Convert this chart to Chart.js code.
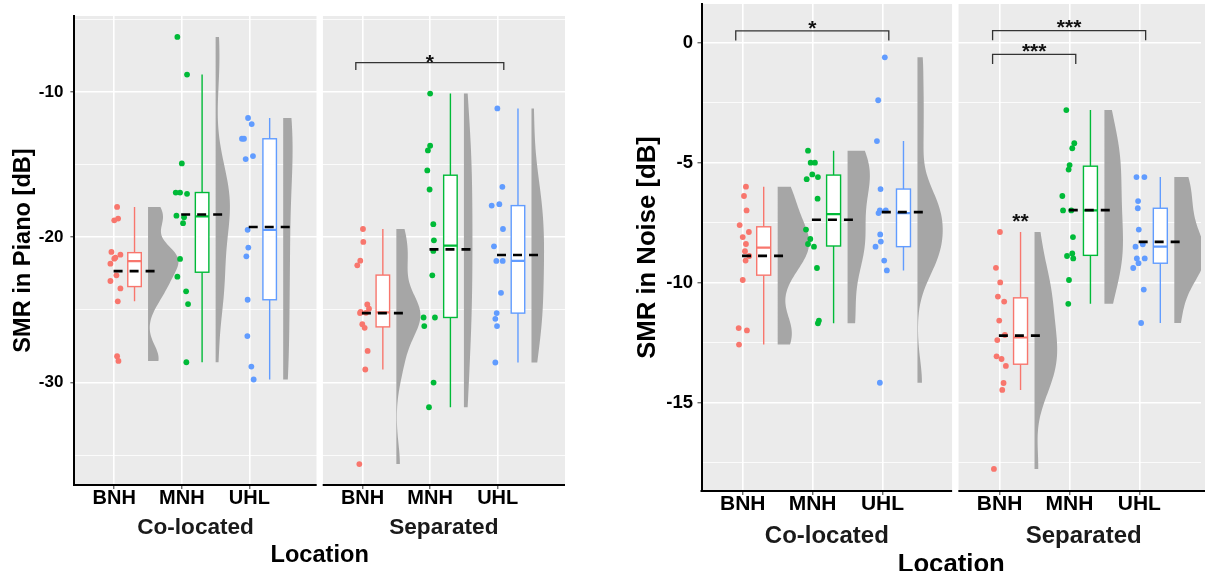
<!DOCTYPE html>
<html>
<head>
<meta charset="utf-8">
<script src="https://cdn.jsdelivr.net/npm/chart.js@4.4.1/dist/chart.umd.min.js"></script>
<style>
  html, body { margin: 0; padding: 0; background: #fff; }
  body { width: 1205px; height: 571px; position: relative; overflow: hidden; }
  #pianoChart { position: absolute; left: 0; top: 0; }
  #noiseChart { position: absolute; left: 600px; top: 0; }
</style>
</head>
<body>
<canvas id="pianoChart" width="600" height="571"></canvas>
<canvas id="noiseChart" width="605" height="571"></canvas>
<script>
const groupNames = ['BNH', 'MNH', 'UHL'];
const locationNames = ['Co-located', 'Separated'];
const groupColors = ['#F8766D', '#00BA38', '#619CFF'];

// SMR in Piano [dB], one value per listener, jitter = horizontal offset
const pianoColBNH = [-17.91, -18.83, -18.71, -21.01, -21.20, -21.47, -21.40, -21.82, -22.62, -23.01, -23.52, -24.41, -28.18, -28.51];
const pianoColBNHJit = [0.042, 0, 0.057, -0.042, 0.091, 0, 0.017, -0.057, 0.032, -0.057, 0.091, 0.052, 0.042, 0.062];
const pianoColMNH = [-6.21, -8.80, -14.92, -16.92, -16.92, -17.01, -18.51, -18.62, -19.03, -21.49, -22.71, -23.72, -24.60, -28.60];
const pianoColMNHJit = [-0.066, 0.077, 0, -0.09, -0.026, 0.077, -0.08, 0.033, 0.018, -0.026, -0.066, 0.063, 0.092, 0.067];
const pianoColUHL = [-11.79, -12.21, -13.22, -13.22, -14.41, -14.62, -19.49, -20.71, -21.31, -24.30, -26.80, -28.90, -29.79];
const pianoColUHLJit = [-0.02, 0.034, -0.11, -0.08, 0.053, -0.055, -0.026, -0.016, -0.045, -0.026, -0.03, 0.029, 0.063];
const pianoSepBNH = [-19.43, -20.32, -21.61, -21.93, -24.62, -24.92, -25.13, -25.20, -25.22, -25.98, -26.23, -27.82, -29.10, -35.61];
const pianoSepBNHJit = [0.006, 0.011, -0.034, -0.078, 0.07, 0.095, -0.029, 0.05, -0.038, -0.004, 0.031, 0.075, 0.04, -0.048];
const pianoSepMNH = [-10.11, -13.70, -14.02, -15.40, -16.71, -19.10, -20.21, -20.94, -22.62, -25.52, -25.52, -26.11, -30.00, -31.70];
const pianoSepMNHJit = [0, 0, -0.033, -0.042, -0.008, 0.047, 0.056, 0.047, 0.032, -0.097, 0.071, -0.087, 0.051, -0.017];
const pianoSepUHL = [-11.13, -16.53, -17.82, -17.72, -19.43, -20.62, -21.63, -21.63, -23.82, -25.22, -25.61, -26.11, -28.62];
const pianoSepUHLJit = [-0.005, 0.069, -0.089, 0.024, 0.078, -0.055, -0.02, 0.074, 0.049, -0.015, -0.035, -0.01, -0.035];

// SMR in Noise [dB]
const noiseColBNH = [-6.00, -6.39, -6.99, -7.60, -7.89, -8.10, -8.39, -8.69, -8.89, -9.08, -9.89, -11.89, -11.99, -12.58];
const noiseColBNHJit = [0.046, 0.018, 0.055, -0.044, 0.088, 0, 0.046, 0.032, 0.093, 0.041, 0, -0.058, 0.06, -0.053];
const noiseColMNH = [-4.50, -5.00, -5.00, -5.49, -5.69, -5.60, -6.50, -7.79, -8.18, -8.39, -8.50, -9.39, -11.58, -11.69];
const noiseColMNHJit = [-0.066, -0.028, 0.033, -0.005, -0.085, 0.076, 0.071, -0.095, -0.033, -0.066, 0.019, 0.062, 0.09, 0.076];
const noiseColUHL = [-0.61, -2.40, -4.10, -6.10, -6.99, -6.99, -7.10, -7.99, -8.29, -8.50, -9.08, -9.49, -14.17];
const noiseColUHLJit = [0.033, -0.062, -0.08, -0.028, -0.038, 0.047, -0.057, -0.033, -0.024, -0.1, 0.024, 0.062, -0.038];
const noiseSepBNH = [-7.89, -9.38, -9.99, -10.58, -10.79, -11.58, -12.18, -12.39, -13.07, -13.18, -13.47, -14.18, -14.47, -17.76];
const noiseSepBNHJit = [0.005, -0.052, 0.009, -0.024, 0.066, -0.005, 0.076, -0.033, -0.043, 0.028, 0.09, 0.057, 0.038, -0.081];
const noiseSepMNH = [-2.81, -4.19, -4.40, -5.10, -5.29, -6.39, -6.99, -6.99, -8.10, -8.89, -8.78, -8.99, -9.89, -10.88];
const noiseSepMNHJit = [-0.045, 0.069, 0.04, 0.002, -0.012, -0.102, -0.092, 0.026, 0.05, -0.035, 0.04, 0.054, -0.007, -0.017];
const noiseSepUHL = [-5.60, -5.60, -6.60, -6.90, -7.79, -8.50, -8.40, -9.39, -8.99, -9.19, -8.99, -10.29, -11.68];
const noiseSepUHLJit = [-0.041, 0.072, -0.018, -0.022, -0.008, -0.055, 0.049, -0.088, -0.036, -0.012, 0.077, 0.063, 0.025];

// y axis ticks (labels only on the major ones)
const pianoYTicks = [-35, -30, -25, -20, -15, -10, -5];
const pianoYLabels = [-30, -20, -10];
const noiseYTicks = [-17.5, -15, -12.5, -10, -7.5, -5, -2.5, 0];
const noiseYLabels = [-15, -10, -5, 0];

// significance brackets: [facet, from group, to group, bracket level, label]
const pianoSig = [[1, 1, 3, -7.98, '*']];
const noiseSig = [[0, 1, 3, 0.49, '*'], [1, 1, 3, 0.50, '***'], [1, 1, 2, -0.49, '***']];
// loose labels: [facet, group, level, label]
const noiseNotes = [[1, 1, -7.22, '**']];

const FACET_LO = 0.41, FACET_HI = 3.996, FACET_SHIFT = 3.675;
const BOX_AT = 0.3, BOX_HALF = 0.1, VIOLIN_AT = 0.5, VIOLIN_HALF = 0.45;
const FONT = '"Liberation Sans", Arial, sans-serif';
Chart.defaults.font.family = FONT;

function quantile(sorted, p) {
  const h = (sorted.length - 1) * p, lo = Math.floor(h);
  const next = lo + 1 < sorted.length ? sorted[lo + 1] : sorted[lo];
  return sorted[lo] + (h - lo) * (next - sorted[lo]);
}

function boxStats(vals) {
  const s = [...vals].sort((a, b) => a - b);
  const q1 = quantile(s, 0.25), med = quantile(s, 0.5), q3 = quantile(s, 0.75), iqr = q3 - q1;
  const lo = s.find(v => v >= q1 - 1.5 * iqr);
  const hi = [...s].reverse().find(v => v <= q3 + 1.5 * iqr);
  const mean = s.reduce((a, b) => a + b, 0) / s.length;
  const sd = Math.sqrt(s.reduce((a, v) => a + (v - mean) ** 2, 0) / (s.length - 1));
  return {q1, med, q3, lo, hi, mean, sd, iqr, min: s[0], max: s[s.length - 1]};
}

// gaussian kernel density, bandwidth as R's bw.nrd0
function kde(vals, st, ys) {
  const bw = 0.9 * Math.min(st.sd, st.iqr / 1.34) * Math.pow(vals.length, -0.2);
  const k = 1 / (vals.length * bw * Math.sqrt(2 * Math.PI));
  return ys.map(y => k * vals.reduce((a, v) => a + Math.exp(-0.5 * ((y - v) / bw) ** 2), 0));
}

function buildGroups(sets) {
  const out = sets.map(([facet, g, vals, jit]) => {
    const pos = g + 1 + facet * FACET_SHIFT;
    const st = boxStats(vals);
    const ys = [];
    for (let i = 0; i <= 120; i++) ys.push(st.min + (st.max - st.min) * i / 120);
    return {pos, vals, jit, color: groupColors[g], st, ys, dens: kde(vals, st, ys)};
  });
  const maxDens = Math.max(...out.flatMap(o => o.dens));
  out.forEach(o => { o.maxDens = maxDens; });
  return out;
}

function buildDatasets(groups) {
  const means = groups.map(o => ({
    type: 'line',
    data: [{x: o.pos - 0.01, y: o.st.mean}, {x: o.pos + 0.6, y: o.st.mean}],
    borderColor: '#000', borderWidth: 2.6, borderDash: [9, 7],
    pointRadius: 0, fill: false, xAxisID: 'x', yAxisID: 'y'
  }));
  const points = groups.map(o => ({
    type: 'scatter',
    data: o.vals.map((v, i) => ({x: o.pos + o.jit[i], y: v})),
    backgroundColor: o.color, borderWidth: 0, pointRadius: 2.9,
    xAxisID: 'x', yAxisID: 'y'
  }));
  return [...means, ...points];
}

const raincloud = {
  id: 'raincloud',
  beforeDraw(chart) {
    const {ctx, chartArea: a} = chart, x = chart.scales.x;
    ctx.save();
    ctx.fillStyle = '#EBEBEB';
    for (const s of [0, FACET_SHIFT]) {
      const l = x.getPixelForValue(FACET_LO + s), r = x.getPixelForValue(FACET_HI + s);
      ctx.fillRect(l, a.top, r - l, a.bottom - a.top);
    }
    ctx.restore();
  },
  beforeDatasetsDraw(chart, args, opts) {
    const {ctx, chartArea: a} = chart, x = chart.scales.x, y = chart.scales.y;
    ctx.save();
    // white strip between the two facet panels
    const g1 = x.getPixelForValue(FACET_HI), g2 = x.getPixelForValue(FACET_LO + FACET_SHIFT);
    ctx.fillStyle = '#fff';
    ctx.fillRect(g1, a.top - 1, g2 - g1, a.bottom - a.top + 4);
    // x axis line under each panel
    ctx.strokeStyle = '#000';
    ctx.lineWidth = 2;
    for (const s of [0, FACET_SHIFT]) {
      ctx.beginPath();
      ctx.moveTo(s ? x.getPixelForValue(FACET_LO + s) : a.left - 1, a.bottom);
      ctx.lineTo(x.getPixelForValue(FACET_HI + s), a.bottom);
      ctx.stroke();
    }
    ctx.beginPath();
    ctx.rect(a.left, a.top, a.right - a.left, a.bottom - a.top);
    ctx.clip();
    // half violins
    ctx.fillStyle = '#A6A6A6';
    for (const o of opts.groups) {
      const base = x.getPixelForValue(o.pos + VIOLIN_AT);
      const full = x.getPixelForValue(o.pos + VIOLIN_AT + VIOLIN_HALF) - base;
      ctx.beginPath();
      ctx.moveTo(base, y.getPixelForValue(o.ys[0]));
      o.ys.forEach((v, i) => ctx.lineTo(base + full * o.dens[i] / o.maxDens, y.getPixelForValue(v)));
      ctx.lineTo(base, y.getPixelForValue(o.ys[o.ys.length - 1]));
      ctx.closePath();
      ctx.fill();
    }
    // boxplots
    for (const o of opts.groups) {
      const st = o.st;
      const cx = x.getPixelForValue(o.pos + BOX_AT);
      const hw = x.getPixelForValue(o.pos + BOX_AT + BOX_HALF) - cx;
      const top = y.getPixelForValue(st.q3), bot = y.getPixelForValue(st.q1);
      ctx.strokeStyle = o.color;
      ctx.lineWidth = 1.4;
      ctx.beginPath();
      ctx.moveTo(cx, y.getPixelForValue(st.hi));
      ctx.lineTo(cx, top);
      ctx.moveTo(cx, bot);
      ctx.lineTo(cx, y.getPixelForValue(st.lo));
      ctx.stroke();
      ctx.fillStyle = '#fff';
      ctx.fillRect(cx - hw, top, 2 * hw, bot - top);
      ctx.strokeRect(cx - hw, top, 2 * hw, bot - top);
      ctx.lineWidth = 2.2;
      ctx.beginPath();
      ctx.moveTo(cx - hw, y.getPixelForValue(st.med));
      ctx.lineTo(cx + hw, y.getPixelForValue(st.med));
      ctx.stroke();
    }
    ctx.restore();
  },
  afterDatasetsDraw(chart, args, opts) {
    const {ctx} = chart, x = chart.scales.x, y = chart.scales.y;
    ctx.save();
    ctx.strokeStyle = '#333';
    ctx.lineWidth = 1.3;
    ctx.fillStyle = '#111';
    ctx.font = 'bold 21px ' + FONT;
    ctx.textAlign = 'center';
    ctx.textBaseline = 'alphabetic';
    for (const [facet, from, to, level, label] of opts.sig) {
      const s = facet * FACET_SHIFT;
      const x1 = x.getPixelForValue(from + s - 0.1), x2 = x.getPixelForValue(to + s + 0.09);
      const yy = y.getPixelForValue(level);
      ctx.beginPath();
      ctx.moveTo(x1, yy + opts.tip);
      ctx.lineTo(x1, yy);
      ctx.lineTo(x2, yy);
      ctx.lineTo(x2, yy + opts.tip);
      ctx.stroke();
      ctx.fillText(label, (x1 + x2) / 2, yy - opts.starGap + 12);
    }
    for (const [facet, g, level, label] of opts.notes) {
      ctx.fillText(label, x.getPixelForValue(g + facet * FACET_SHIFT + BOX_AT), y.getPixelForValue(level) + 12);
    }
    ctx.restore();
  }
};

function makeFigure(id, cfg) {
  const groups = buildGroups(cfg.sets);
  const xTicks = [0, FACET_SHIFT].flatMap(s => [1, 2, 3].map(g => g + s));
  const stripTicks = [0, FACET_SHIFT].map(s => (FACET_LO + FACET_HI) / 2 + s);
  const bold = size => ({family: FONT, size, weight: 'bold', lineHeight: 1});
  return new Chart(document.getElementById(id), {
    type: 'scatter',
    data: {datasets: buildDatasets(groups)},
    options: {
      responsive: false,
      devicePixelRatio: 1,
      animation: false,
      layout: {padding: {top: cfg.top, right: cfg.right, left: 0, bottom: 0}},
      plugins: {
        legend: {display: false},
        tooltip: {enabled: false},
        raincloud: {groups, sig: cfg.sig, notes: cfg.notes, tip: cfg.tip, starGap: cfg.starGap}
      },
      scales: {
        x: {
          type: 'linear', position: 'bottom', weight: 0,
          min: FACET_LO, max: cfg.xMax,
          afterBuildTicks: s => { s.ticks = xTicks.map(v => ({value: v})); },
          afterFit: s => { s.height = 30; s.paddingLeft = 0; s.paddingRight = 0; },
          ticks: {autoSkip: false, maxRotation: 0, padding: -1, color: '#000', font: bold(cfg.tickSize),
                  callback: (v, i) => groupNames[i % 3]},
          grid: {color: '#fff', lineWidth: 1.6, tickColor: '#333', tickLength: 4, tickWidth: 1},
          border: {display: false}
        },
        x2: {
          type: 'linear', position: 'bottom', weight: 1,
          min: FACET_LO, max: cfg.xMax,
          afterBuildTicks: s => { s.ticks = stripTicks.map(v => ({value: v})); },
          afterFit: s => { s.height = cfg.stripH; s.paddingLeft = 0; s.paddingRight = 0; },
          ticks: {autoSkip: false, maxRotation: 0, padding: cfg.stripPad, color: '#1a1a1a', font: bold(cfg.stripSize),
                  callback: (v, i) => locationNames[i]},
          grid: {display: false, drawTicks: false, tickLength: 0},
          border: {display: false},
          title: {display: true, text: 'Location', color: '#000', font: bold(cfg.titleSize),
                  padding: {top: 0, bottom: cfg.locPad}}
        },
        y: {
          type: 'linear', min: cfg.yMin, max: cfg.yMax,
          afterBuildTicks: s => { s.ticks = cfg.yTicks.map(v => ({value: v})); },
          afterFit: s => { s.width = cfg.yW; s.paddingTop = 0; s.paddingBottom = 0; },
          ticks: {autoSkip: false, padding: cfg.yTickPad, color: '#000', font: bold(cfg.yTickSize),
                  callback: v => cfg.yLabels.includes(v) ? String(v) : ''},
          grid: {
            color: '#fff',
            lineWidth: c => cfg.yLabels.includes(c.tick.value) ? 1.6 : 0.8,
            tickColor: c => cfg.yLabels.includes(c.tick.value) ? '#333' : 'rgba(0,0,0,0)',
            tickLength: 4, tickWidth: 1
          },
          border: {display: true, color: '#000', width: 2},
          title: {display: true, text: cfg.yTitle, color: '#000', font: bold(cfg.titleSize),
                  padding: {top: cfg.yTitlePad, bottom: 0}}
        }
      }
    },
    plugins: [raincloud]
  });
}

makeFigure('pianoChart', {
  sets: [
    [0, 0, pianoColBNH, pianoColBNHJit], [0, 1, pianoColMNH, pianoColMNHJit], [0, 2, pianoColUHL, pianoColUHLJit],
    [1, 0, pianoSepBNH, pianoSepBNHJit], [1, 1, pianoSepMNH, pianoSepMNHJit], [1, 2, pianoSepUHL, pianoSepUHLJit]
  ],
  sig: pianoSig, notes: [], tip: 7.3, starGap: 6,
  yTicks: pianoYTicks, yLabels: pianoYLabels, yMin: -37.05, yMax: -4.77,
  yTitle: 'SMR in Piano [dB]',
  xMax: FACET_HI + FACET_SHIFT,
  top: 16, right: 35, yW: 74.4, yTickPad: 7, yTitlePad: 11.2,
  tickSize: 20, yTickSize: 17, stripSize: 22.6, titleSize: 23.6,
  stripH: 56, stripPad: 1.7, locPad: 3.5
});

makeFigure('noiseChart', {
  sets: [
    [0, 0, noiseColBNH, noiseColBNHJit], [0, 1, noiseColMNH, noiseColMNHJit], [0, 2, noiseColUHL, noiseColUHLJit],
    [1, 0, noiseSepBNH, noiseSepBNHJit], [1, 1, noiseSepMNH, noiseSepMNHJit], [1, 2, noiseSepUHL, noiseSepUHLJit]
  ],
  sig: noiseSig, notes: noiseNotes, tip: 9.6, starGap: 8.3,
  yTicks: noiseYTicks, yLabels: noiseYLabels, yMin: -18.68, yMax: 1.61,
  yTitle: 'SMR in Noise [dB]',
  xMax: 7.557,
  top: 4, right: 0, yW: 101.5, yTickPad: 4.5, yTitlePad: 35,
  tickSize: 21, yTickSize: 18.5, stripSize: 24, titleSize: 25.7,
  stripH: 50, stripPad: 3.5, locPad: -7
});
</script>
</body>
</html>
